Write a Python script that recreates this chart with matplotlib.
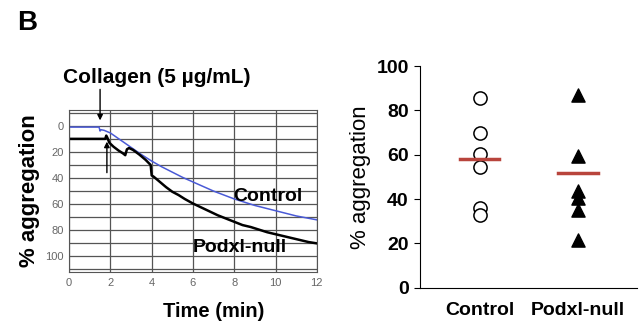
import matplotlib
matplotlib.use('Agg')
import matplotlib.pyplot as plt

plt.rcParams['font.family'] = ['Liberation Sans', 'DejaVu Sans']

# Aggregation traces (time in min, % aggregation)
control_t = [0, 0.5, 1.0, 1.45, 1.5, 1.55, 1.7, 2.0, 2.5, 3.0, 3.5, 4.0, 4.5, 5.0,
             5.5, 6.0, 6.5, 7.0, 7.5, 8.0, 8.5, 9.0, 9.5, 10.0, 10.5, 11.0, 11.5, 12.0]
control_y = [1, 1, 1, 1, 4, 3, 3.5, 5.5, 11, 16.5, 22, 27, 31.5, 35.5,
             39.5, 43, 46.5, 50, 53, 56, 58.5, 61, 63, 65, 67, 69, 70.5, 72]

podxl_t = [0, 0.5, 1.0, 1.5, 1.75, 1.8, 1.85, 1.95, 2.15, 2.4, 2.6, 2.72, 2.8, 2.9,
           3.1, 3.4, 3.7, 3.95, 4.0, 4.1, 4.4, 4.7, 5.0, 5.3, 5.6, 6.0, 6.4, 6.8,
           7.2, 7.6, 8.0, 8.4, 8.8, 9.2, 9.6, 10.0, 10.4, 10.8, 11.2, 11.6, 12.0]
podxl_y = [10, 10, 10, 10, 10, 7.5, 9, 13, 16, 19, 21, 22.5, 18, 17,
           18.5, 22, 26, 30, 38, 39, 43, 47, 50.5, 53, 56, 59.5, 62.5, 65.5,
           68.5, 71, 73.5, 76, 77.5, 79.5, 81.5, 83, 84.5, 86, 87.5, 89, 90]

groups = ['Control', 'Podxl-null']
control_pts = [85.5, 70, 60.5, 54.5, 36, 33]
podxl_pts = [87, 59.5, 43.5, 40.5, 35, 21.5]
means = [58, 51.7]

fig = plt.figure(figsize=(6.4, 3.22), dpi=100)
fig.text(0.027, 0.928, 'B', fontsize=20, fontweight='bold', va='center')

# left panel: traces
ax1 = fig.add_axes([0.108, 0.155, 0.387, 0.503])
ax1.plot(control_t, control_y, color='#4a5ad6', lw=1.1)
ax1.plot(podxl_t, podxl_y, color='black', lw=1.8)
ax1.set_xlim(0, 12)
ax1.set_ylim(112, -12)
ax1.set_xticks(range(0, 13, 2))
ax1.set_yticks(range(0, 101, 20))
ax1.set_yticks(range(-10, 111, 10), minor=True)
ax1.grid(True, which='both', color='#555555', lw=0.9)
ax1.tick_params(which='both', length=0, labelsize=8, labelcolor='#666666', pad=4)
for s in ax1.spines.values():
    s.set_color('#555555')
ax1.set_xlabel('Time (min)', fontsize=14.5, fontweight='bold', va='center')
ax1.xaxis.set_label_coords(0.585, -0.245)
ax1.set_ylabel('% aggregation', fontsize=16, fontweight='bold', labelpad=4)
ax1.text(7.95, 54, 'Control', fontsize=14, fontweight='bold', va='center')
ax1.text(6.0, 93, 'Podxl-null', fontsize=14, fontweight='bold', va='center')
ax1.text(-0.3, -37, 'Collagen (5 \u00b5g/mL)', fontsize=15, fontweight='bold',
         va='center', clip_on=False)
ax1.annotate('', xy=(1.5, -2), xytext=(1.5, -30), annotation_clip=False,
             arrowprops=dict(arrowstyle='-|>', color='black', lw=1, mutation_scale=8))
ax1.annotate('', xy=(1.83, 10), xytext=(1.83, 38), annotation_clip=False,
             arrowprops=dict(arrowstyle='-|>', color='black', lw=1, mutation_scale=8))

# right panel: individual values
ax2 = fig.add_axes([0.656, 0.106, 0.339, 0.689])
ax2.scatter([0] * len(control_pts), control_pts, s=90, facecolors='white',
            edgecolors='black', linewidths=1.1, zorder=3)
ax2.scatter([1] * len(podxl_pts), podxl_pts, s=90, marker='^', color='black', zorder=3)
for i, m in enumerate(means):
    ax2.plot([i - 0.2, i + 0.2], [m, m], color='#b8443c', lw=2.5, zorder=4)
ax2.set_xlim(-0.61, 1.6)
ax2.set_ylim(0, 100)
ax2.set_yticks(range(0, 101, 20))
ax2.set_xticks([0, 1])
ax2.set_xticklabels(groups, fontsize=14, fontweight='bold')
ax2.tick_params(axis='x', length=0, pad=10)
ax2.tick_params(axis='y', labelsize=14, length=4, pad=4)
for lab in ax2.get_yticklabels():
    lab.set_fontweight('bold')
ax2.spines['top'].set_visible(False)
ax2.spines['right'].set_visible(False)
ax2.set_ylabel('% aggregation', fontsize=16, labelpad=4)

fig.savefig('out.png', dpi=100)
